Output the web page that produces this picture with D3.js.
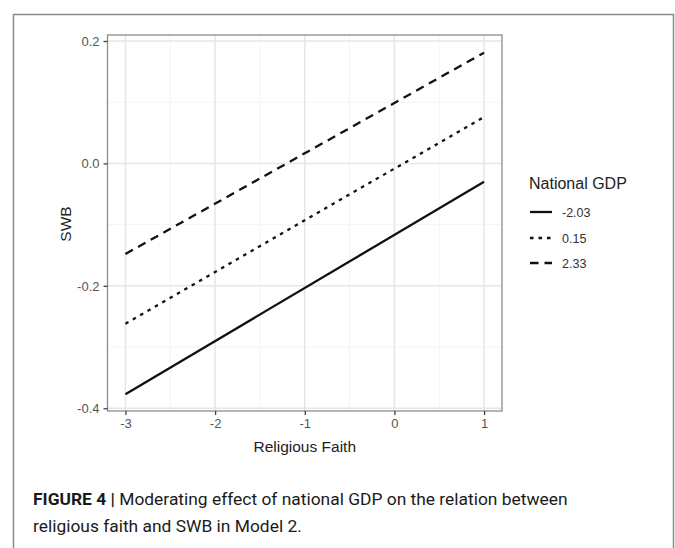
<!DOCTYPE html>
<html>
<head>
<meta charset="utf-8">
<script src="https://cdn.jsdelivr.net/npm/d3@7"></script>
<style>
  html, body { margin: 0; padding: 0; background: #fff; }
  svg { display: block; }
</style>
</head>
<body>
<svg id="chart" width="675" height="548"></svg>
<script>
// Predicted SWB at religious faith -3 and 1, for three levels of national GDP
const faithEnds = [-3, 1];
const gdpLevels = ["-2.03", "0.15", "2.33"];
const swbLow = [-0.377, -0.030];
const swbMid = [-0.262, 0.076];
const swbHigh = [-0.148, 0.181];
const xTicks = [-3, -2, -1, 0, 1];
const yTicks = [-0.4, -0.2, 0.0, 0.2];
const xMinor = [-2.5, -1.5, -0.5, 0.5];
const yMinor = [-0.3, -0.1, 0.1];

const series = [
  { name: gdpLevels[0], values: swbLow, dash: null },
  { name: gdpLevels[1], values: swbMid, dash: "3.5,5" },
  { name: gdpLevels[2], values: swbHigh, dash: "8.5,6" }
];

const svg = d3.select("#chart");
const font = "Liberation Sans, Arial, sans-serif";

// outer figure frame (open at the bottom)
svg.append("path")
  .attr("d", "M13.5,548 L13.5,14.5 L673.5,14.5 L673.5,548")
  .attr("fill", "none").attr("stroke", "#8a8a8a").attr("stroke-width", 1.5);

const panel = { left: 107.5, right: 502, top: 35, bottom: 411 };
const x = d3.scaleLinear().domain([-3.2, 1.2]).range([panel.left, panel.right]);
const y = d3.scaleLinear().domain([-0.4045, 0.2098]).range([panel.bottom, panel.top]);

const g = svg.append("g");

// minor grid
g.selectAll(".xminor").data(xMinor).enter().append("line")
  .attr("x1", d => x(d)).attr("x2", d => x(d))
  .attr("y1", panel.top).attr("y2", panel.bottom)
  .attr("stroke", "#f4f4f4").attr("stroke-width", 1);
g.selectAll(".yminor").data(yMinor).enter().append("line")
  .attr("y1", d => y(d)).attr("y2", d => y(d))
  .attr("x1", panel.left).attr("x2", panel.right)
  .attr("stroke", "#f4f4f4").attr("stroke-width", 1);
// major grid
g.selectAll(".xmajor").data(xTicks).enter().append("line")
  .attr("x1", d => x(d)).attr("x2", d => x(d))
  .attr("y1", panel.top).attr("y2", panel.bottom)
  .attr("stroke", "#e6e6e6").attr("stroke-width", 1.5);
g.selectAll(".ymajor").data(yTicks).enter().append("line")
  .attr("y1", d => y(d)).attr("y2", d => y(d))
  .attr("x1", panel.left).attr("x2", panel.right)
  .attr("stroke", "#e6e6e6").attr("stroke-width", 1.5);

// lines
const line = d3.line().x((d, i) => x(faithEnds[i])).y(d => y(d));
g.selectAll(".series").data(series).enter().append("path")
  .attr("d", d => line(d.values))
  .attr("fill", "none").attr("stroke", "#111")
  .attr("stroke-width", 2.3)
  .attr("stroke-dasharray", d => d.dash);

// panel border
g.append("rect")
  .attr("x", panel.left).attr("y", panel.top)
  .attr("width", panel.right - panel.left).attr("height", panel.bottom - panel.top)
  .attr("fill", "none").attr("stroke", "#8c8c8c").attr("stroke-width", 1.3);

// axes
const fmtY = d => d3.format(".1f")(d).replace("−", "-");
const yAxis = d3.axisLeft(y).tickValues(yTicks).tickSize(4).tickPadding(4).tickFormat(fmtY);
const xAxis = d3.axisBottom(x).tickValues(xTicks).tickSize(4).tickPadding(4).tickFormat(d => String(d));

const ya = svg.append("g").attr("transform", `translate(${panel.left},0)`).call(yAxis);
const xa = svg.append("g").attr("transform", `translate(0,${panel.bottom})`).call(xAxis);
[ya, xa].forEach(a => {
  a.attr("font-family", font).attr("font-size", 13);
  a.select(".domain").remove();
  a.selectAll(".tick line").attr("stroke", "#444").attr("stroke-width", 1.3);
  a.selectAll(".tick text").attr("fill", "#555");
});

// axis titles
svg.append("text").attr("x", (panel.left + panel.right) / 2).attr("y", 452)
  .attr("text-anchor", "middle").attr("font-family", font).attr("font-size", 15.5)
  .attr("fill", "#222").text("Religious Faith");
svg.append("text").attr("transform", "translate(71,224) rotate(-90)")
  .attr("text-anchor", "middle").attr("font-family", font).attr("font-size", 15.5)
  .attr("fill", "#222").text("SWB");

// legend
const lg = svg.append("g");
lg.append("text").attr("x", 529).attr("y", 189).attr("font-family", font)
  .attr("font-size", 16).attr("fill", "#222").text("National GDP");
const keyY = [212, 238, 263];
const keys = lg.selectAll(".key").data(series).enter().append("g")
  .attr("transform", (d, i) => `translate(0,${keyY[i]})`);
keys.append("line").attr("x1", 530).attr("x2", 552).attr("y1", 0).attr("y2", 0)
  .attr("stroke", "#111").attr("stroke-width", 2.3)
  .attr("stroke-dasharray", d => d.dash);
keys.append("text").attr("x", 562).attr("y", 4.5).attr("font-family", font)
  .attr("font-size", 12.5).attr("fill", "#333").text(d => d.name);

// caption
const cap = svg.append("text").attr("font-family", "Roboto, Liberation Sans, sans-serif")
  .attr("font-size", 17.4).attr("fill", "#1a1a1a");
const l1 = cap.append("tspan").attr("x", 33).attr("y", 505);
l1.append("tspan").attr("font-weight", "bold").text("FIGURE 4 | ");
l1.append("tspan").text("Moderating effect of national GDP on the relation between");
cap.append("tspan").attr("x", 33).attr("y", 532)
  .text("religious faith and SWB in Model 2.");
</script>
</body>
</html>
